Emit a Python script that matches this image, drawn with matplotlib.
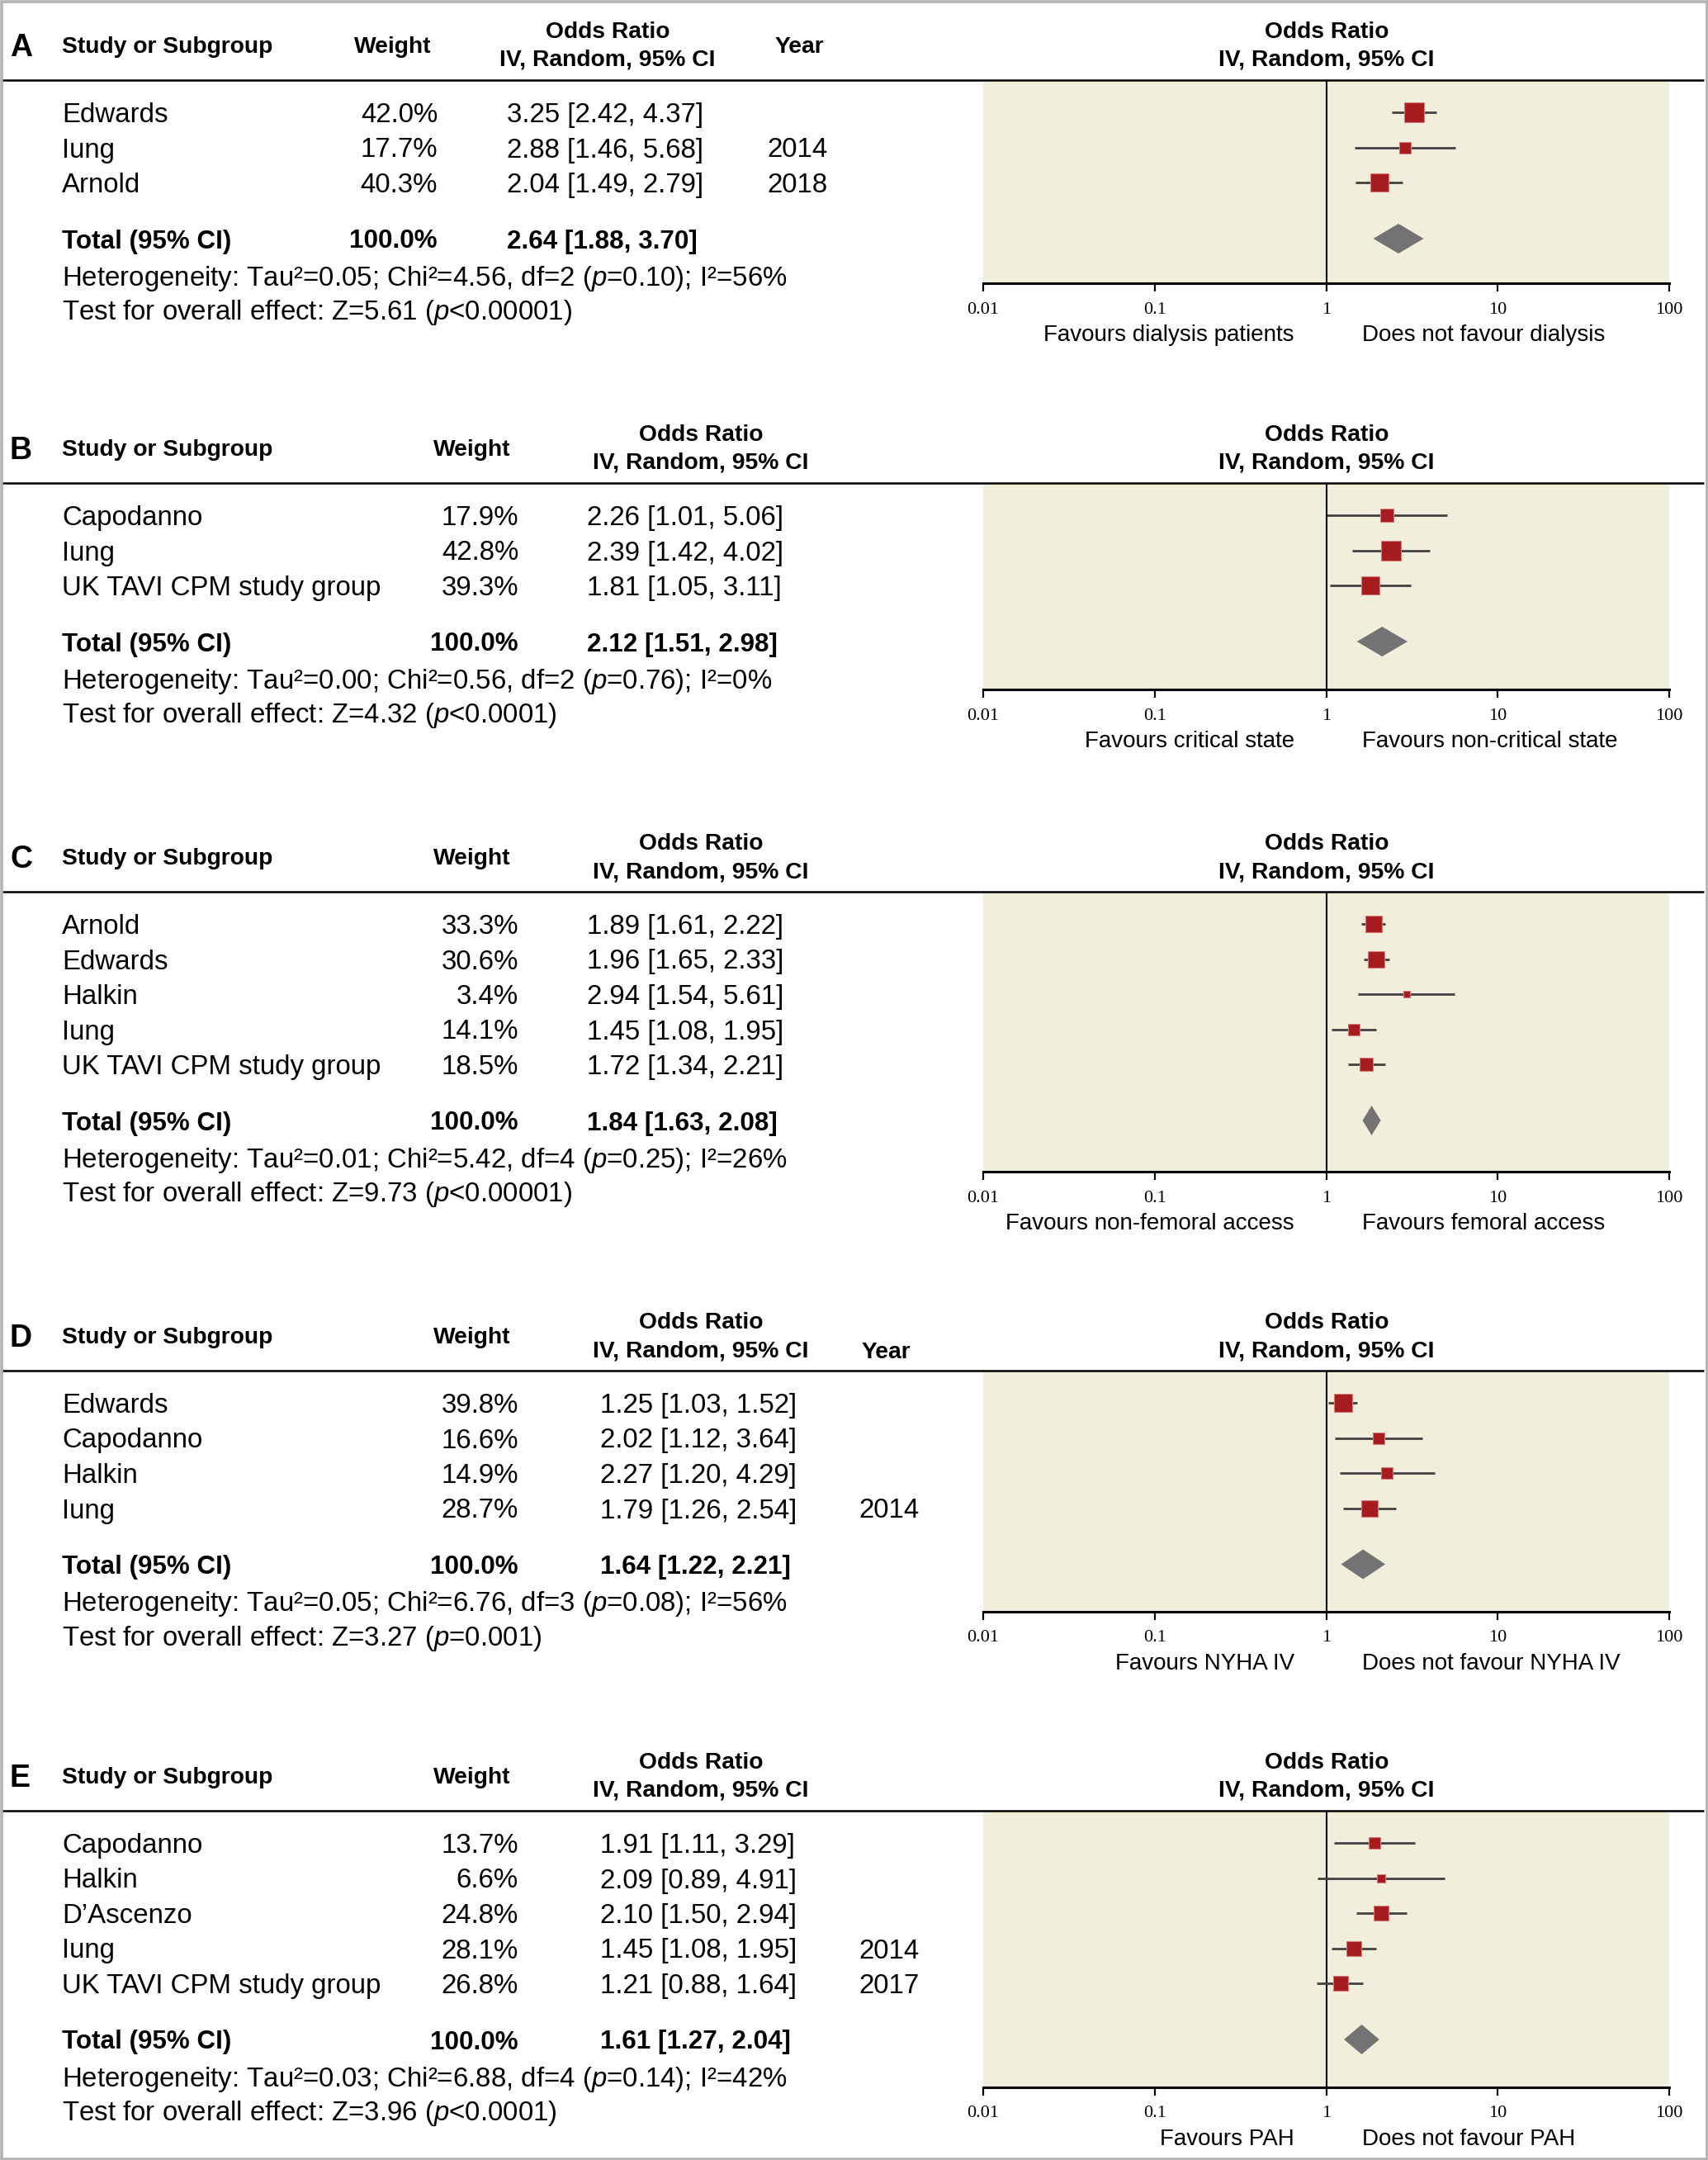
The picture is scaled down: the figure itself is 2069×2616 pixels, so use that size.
import math

import matplotlib
matplotlib.use("Agg")
import matplotlib.pyplot as plt
from matplotlib.patches import Polygon, Rectangle

plt.rcParams["font.family"] = ["Liberation Sans", "DejaVu Sans"]
plt.rcParams["mathtext.fontset"] = "custom"
plt.rcParams["mathtext.rm"] = "Liberation Sans"
plt.rcParams["mathtext.it"] = "Liberation Sans:italic"
plt.rcParams["mathtext.bf"] = "Liberation Sans:bold"

# ---------------- data ----------------
a_studies = ["Edwards", "Iung", "Arnold"]
a_weights = [42.0, 17.7, 40.3]
a_or = [3.25, 2.88, 2.04]
a_lo = [2.42, 1.46, 1.49]
a_hi = [4.37, 5.68, 2.79]
a_years = ["", "2014", "2018"]
a_total = [2.64, 1.88, 3.70]
a_het = ["0.05", "4.56", "2", "=0.10", "56"]
a_test = ["5.61", "<0.00001"]
a_favours = ["Favours dialysis patients", "Does not favour dialysis"]

b_studies = ["Capodanno", "Iung", "UK TAVI CPM study group"]
b_weights = [17.9, 42.8, 39.3]
b_or = [2.26, 2.39, 1.81]
b_lo = [1.01, 1.42, 1.05]
b_hi = [5.06, 4.02, 3.11]
b_years = ["", "", ""]
b_total = [2.12, 1.51, 2.98]
b_het = ["0.00", "0.56", "2", "=0.76", "0"]
b_test = ["4.32", "<0.0001"]
b_favours = ["Favours critical state", "Favours non-critical state"]

c_studies = ["Arnold", "Edwards", "Halkin", "Iung", "UK TAVI CPM study group"]
c_weights = [33.3, 30.6, 3.4, 14.1, 18.5]
c_or = [1.89, 1.96, 2.94, 1.45, 1.72]
c_lo = [1.61, 1.65, 1.54, 1.08, 1.34]
c_hi = [2.22, 2.33, 5.61, 1.95, 2.21]
c_years = ["", "", "", "", ""]
c_total = [1.84, 1.63, 2.08]
c_het = ["0.01", "5.42", "4", "=0.25", "26"]
c_test = ["9.73", "<0.00001"]
c_favours = ["Favours non-femoral access", "Favours femoral access"]

d_studies = ["Edwards", "Capodanno", "Halkin", "Iung"]
d_weights = [39.8, 16.6, 14.9, 28.7]
d_or = [1.25, 2.02, 2.27, 1.79]
d_lo = [1.03, 1.12, 1.20, 1.26]
d_hi = [1.52, 3.64, 4.29, 2.54]
d_years = ["", "", "", "2014"]
d_total = [1.64, 1.22, 2.21]
d_het = ["0.05", "6.76", "3", "=0.08", "56"]
d_test = ["3.27", "=0.001"]
d_favours = ["Favours NYHA IV", "Does not favour NYHA IV"]

e_studies = ["Capodanno", "Halkin", "D\u2019Ascenzo", "Iung", "UK TAVI CPM study group"]
e_weights = [13.7, 6.6, 24.8, 28.1, 26.8]
e_or = [1.91, 2.09, 2.10, 1.45, 1.21]
e_lo = [1.11, 0.89, 1.50, 1.08, 0.88]
e_hi = [3.29, 4.91, 2.94, 1.95, 1.64]
e_years = ["", "", "", "2014", "2017"]
e_total = [1.61, 1.27, 2.04]
e_het = ["0.03", "6.88", "4", "=0.14", "42"]
e_test = ["3.96", "<0.0001"]
e_favours = ["Favours PAH", "Does not favour PAH"]

x_ticks = [0.01, 0.1, 1, 10, 100]
x_tick_labels = ["0.01", "0.1", "1", "10", "100"]

# ---------------- layout (pixels of the 2069x2616 canvas) ----------------
W, H = 2069, 2616
DPI = 200
PLOT_L, PLOT_R = 1191, 2022
ONE_X = 1607
ROW_FIRST, ROW_STEP = 39, 42.5
TOTAL_GAP, HET_GAP, TEST_GAP = 68, 44, 41

BODY = 11.9
HEAD = 10.2
TOT = 11.3
LETTER = 13.5
FAV = 10.0
TICK = 8.0

COLS_A = dict(w_right=530, w_head=476, or_left=614, or_head=736, yr_left=929, yr_head=968)
COLS_BC = dict(w_right=628, w_head=572, or_left=711, or_head=849, yr_left=1040, yr_head=1073)
COLS_DE = dict(COLS_BC, or_left=727)

SQ_COLOR = "#A61B1E"
SQ_EDGE = "#D67A7C"
CI_COLOR = "#404040"
DIA_COLOR = "#737373"
BG_COLOR = "#F2EEDC"


def bold(ax_t, x, y, s, size, ha):
    ax_t.text(x, y, s, fontsize=size, fontweight="bold", ha=ha, va="center_baseline")


def draw_panel(fig, ax_t, letter, studies, weights, ors, los, his, years, total,
               het, test, favours, top, axis_y, cols, year_head):
    # header
    hy = top - 43
    bold(ax_t, 12, hy, letter, LETTER, "left")
    bold(ax_t, 75, hy, "Study or Subgroup", HEAD, "left")
    bold(ax_t, cols["w_head"], hy, "Weight", HEAD, "center")
    for cx in (cols["or_head"], ONE_X):
        bold(ax_t, cx, top - 61, "Odds Ratio", HEAD, "center")
        bold(ax_t, cx, top - 27, "IV, Random, 95% CI", HEAD, "center")
    if year_head is not None:
        bold(ax_t, cols["yr_head"], top - year_head, "Year", HEAD, "center")
    ax_t.plot([2, 2064], [top, top], color="black", lw=0.9, solid_capstyle="butt")

    rows = [top + ROW_FIRST + i * ROW_STEP for i in range(len(studies))]
    for y, s, w, o, lo, hi, yr in zip(rows, studies, weights, ors, los, his, years):
        ax_t.text(75, y, s, fontsize=BODY, ha="left", va="center_baseline")
        ax_t.text(cols["w_right"], y, f"{w:.1f}%", fontsize=BODY, ha="right", va="center_baseline")
        ax_t.text(cols["or_left"], y, f"{o:.2f} [{lo:.2f}, {hi:.2f}]", fontsize=BODY,
                  ha="left", va="center_baseline")
        if yr:
            ax_t.text(cols["yr_left"], y, yr, fontsize=BODY, ha="left", va="center_baseline")

    ty = rows[-1] + TOTAL_GAP
    bold(ax_t, 75, ty, "Total (95% CI)", TOT, "left")
    bold(ax_t, cols["w_right"], ty, "100.0%", TOT, "right")
    bold(ax_t, cols["or_left"], ty, f"{total[0]:.2f} [{total[1]:.2f}, {total[2]:.2f}]", TOT, "left")
    het_y = ty + HET_GAP
    ax_t.text(75, het_y,
              f"Heterogeneity: Tau\u00b2={het[0]}; Chi\u00b2={het[1]}, df={het[2]} "
              f"($p${het[3]}); I\u00b2={het[4]}%",
              fontsize=BODY, ha="left", va="center_baseline")
    ax_t.text(75, het_y + TEST_GAP, f"Test for overall effect: Z={test[0]} ($p${test[1]})",
              fontsize=BODY, ha="left", va="center_baseline")

    # forest plot
    ax = fig.add_axes([PLOT_L / W, 1 - axis_y / H, (PLOT_R - PLOT_L) / W, (axis_y - top) / H])
    ax.set_facecolor(BG_COLOR)
    ax.set_xscale("log")
    ax.set_xlim(0.01, 100)
    ax.set_ylim(axis_y, top)
    ax.axvline(1, color="black", lw=0.75, zorder=2)
    for y, w, o, lo, hi in zip(rows, weights, ors, los, his):
        ax.plot([lo, hi], [y, y], color=CI_COLOR, lw=1.0, solid_capstyle="butt", zorder=3)
        side = max(8.0, 3.55 * math.sqrt(w)) * 72 / DPI
        ax.plot([o], [y], marker="s", markersize=side, color=SQ_COLOR,
                markeredgecolor=SQ_EDGE, markeredgewidth=0.4, zorder=4)
    dia = Polygon([(total[1], ty), (total[0], ty - 18), (total[2], ty), (total[0], ty + 18)],
                  closed=True, facecolor=DIA_COLOR, edgecolor="none", zorder=4)
    ax.add_patch(dia)
    for side in ("top", "left", "right"):
        ax.spines[side].set_visible(False)
    ax.spines["bottom"].set_linewidth(1.1)
    ax.set_xticks(x_ticks)
    ax.set_xticklabels(x_tick_labels)
    ax.minorticks_off()
    ax.set_yticks([])
    ax.tick_params(axis="x", direction="out", length=3.6, width=0.8, pad=4.5,
                   labelsize=TICK, labelfontfamily="Liberation Serif")

    fy = axis_y + 60
    ax_t.text(ONE_X - 39, fy, favours[0], fontsize=FAV, ha="right", va="center_baseline")
    ax_t.text(ONE_X + 43, fy, favours[1], fontsize=FAV, ha="left", va="center_baseline")


def main() -> None:
    fig = plt.figure(figsize=(W / DPI, H / DPI), dpi=DPI)
    ax_t = fig.add_axes([0, 0, 1, 1])
    ax_t.set_xlim(0, W)
    ax_t.set_ylim(H, 0)
    ax_t.axis("off")
    ax_t.set_zorder(5)
    ax_t.patch.set_visible(False)

    panels = [
        ("A", a_studies, a_weights, a_or, a_lo, a_hi, a_years, a_total, a_het, a_test,
         a_favours, 97, 343, COLS_A, 43),
        ("B", b_studies, b_weights, b_or, b_lo, b_hi, b_years, b_total, b_het, b_test,
         b_favours, 585, 835, COLS_BC, None),
        ("C", c_studies, c_weights, c_or, c_lo, c_hi, c_years, c_total, c_het, c_test,
         c_favours, 1080, 1419, COLS_BC, None),
        ("D", d_studies, d_weights, d_or, d_lo, d_hi, d_years, d_total, d_het, d_test,
         d_favours, 1660, 1952, COLS_DE, 25),
        ("E", e_studies, e_weights, e_or, e_lo, e_hi, e_years, e_total, e_het, e_test,
         e_favours, 2193, 2528, COLS_DE, None),
    ]
    for p in panels:
        draw_panel(fig, ax_t, *p)

    ax_t.add_patch(Rectangle((1.5, 1.5), W - 3, H - 3, fill=False, edgecolor="#B3B3B3",
                             lw=1.3, zorder=10))
    fig.savefig("out.png", dpi=DPI)
    plt.close(fig)


if __name__ == "__main__":
    main()
